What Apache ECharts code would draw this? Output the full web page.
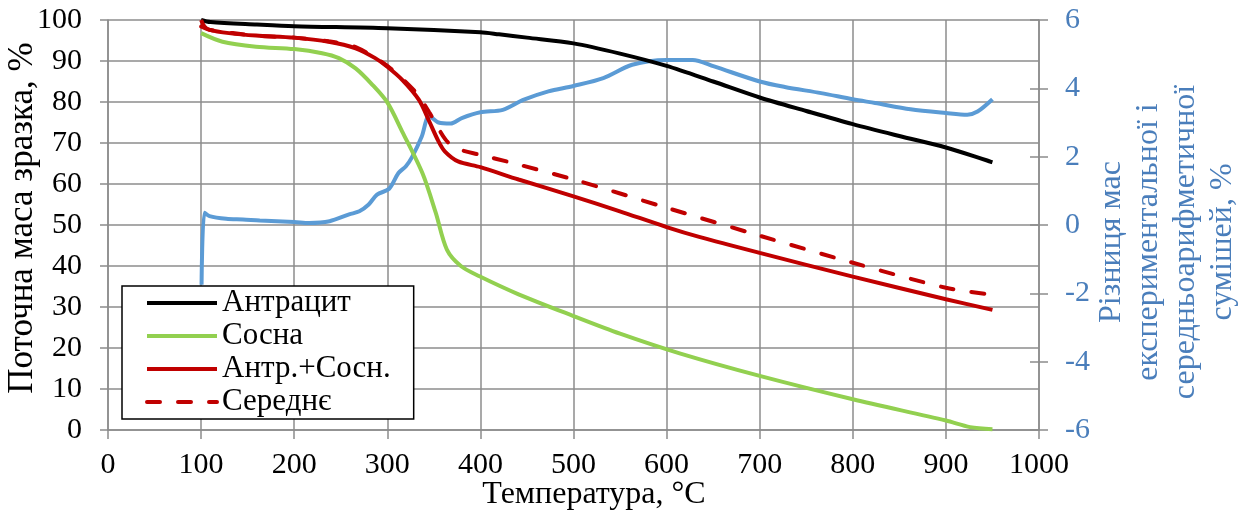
<!DOCTYPE html>
<html>
<head>
<meta charset="utf-8">
<script src="https://cdn.jsdelivr.net/npm/echarts@6/dist/echarts.min.js"></script>
<style>html,body{margin:0;padding:0;background:#fff}#c{width:1245px;height:512px}</style>
</head>
<body>
<div id="c"></div>
<script>
// ---- data ----
const xTicks = [0,100,200,300,400,500,600,700,800,900,1000];
const leftTicks = [0,10,20,30,40,50,60,70,80,90,100];
const rightTicks = [-6,-4,-2,0,2,4,6];

const anthrT = [100,110,160,200,300,400,420,450,500,550,600,650,700,750,800,850,900,950];
const anthrM = [100,99.5,98.9,98.5,98.0,97.0,96.5,95.7,94.3,91.8,88.8,85.0,81.1,77.8,74.6,71.7,68.9,65.3];

const pineT = [100,123,159,200,230,248,266,284,300,316,338,352,364,379,399,441,500,550,614,700,800,900,926,950];
const pineM = [96.8,94.7,93.5,92.9,91.9,90.7,88.2,84.2,79.9,72.8,62.5,53.0,44.0,40.0,37.5,33.1,27.8,23.5,18.7,13.2,7.5,2.3,0.7,0.2];

const mixT = [100,103.6,109,130,159,200,237,266,287,300,316,334,345,355,362,376,400,441,500,549,600,635,700,800,900,950];
const mixM = [100,98.4,97.6,96.8,96.2,95.7,94.7,93.1,90.7,88.6,85.4,80.5,75.3,70.4,67.9,65.5,64.1,61.1,57.0,53.4,49.5,47.1,43.2,37.4,31.9,29.3];

const avgT = [100,109,159,200,237,266,300,330,345,362,373,400,435,500,600,700,800,900,950];
const avgM = [98.4,97.6,96.2,95.7,94.8,93.4,88.8,82.5,77.5,71.0,68.8,67.1,65.1,61.1,54.2,47.4,40.8,34.7,33.0];

const diffT = [100.5,103.6,109,127,145,163,200,216,238,259,270,280,289,302,312,320,327,337,345,355,368,380,400,424,446,473,500,532,563,600,628,651,700,727,766,800,824,862,900,923,934,950];
const diffV = [-1.75,0.36,0.26,0.18,0.16,0.13,0.09,0.06,0.11,0.31,0.40,0.60,0.89,1.06,1.52,1.72,2.01,2.59,3.19,3.00,2.97,3.13,3.30,3.37,3.66,3.91,4.07,4.30,4.69,4.83,4.83,4.64,4.20,4.04,3.86,3.68,3.57,3.39,3.28,3.23,3.32,3.68];

const names = ['Антрацит','Сосна','Антр.+Сосн.','Середнє','Різниця'];

function pairs(t, v){ return t.map((x,i)=>[x, v[i]]); }

const FONT = 'Liberation Serif';
const GRID = '#8c8c8c';
const BLUE_TXT = '#4A7EBB';
const LW = 4;

const chart = echarts.init(document.getElementById('c'), null, {renderer:'canvas'});
chart.setOption({
  animation:false,
  backgroundColor:'#fff',
  grid:{left:108, right:206, top:20, bottom:82, containLabel:false},
  xAxis:{
    type:'value', min:xTicks[0], max:xTicks[xTicks.length-1], interval:100,
    axisLine:{show:true, onZero:false, lineStyle:{color:GRID, width:1.5}},
    axisTick:{show:true, inside:false, length:9, lineStyle:{color:GRID, width:1.5}},
    splitLine:{show:true, lineStyle:{color:GRID, width:1.5}},
    axisLabel:{color:'#000', fontFamily:FONT, fontSize:30, margin:20, formatter:(v)=>String(v)}
  },
  yAxis:[
    {
      type:'value', position:'left', min:leftTicks[0], max:leftTicks[leftTicks.length-1], interval:10,
      axisLine:{show:true, lineStyle:{color:GRID, width:1.5}},
      axisTick:{show:true, inside:false, length:8, lineStyle:{color:GRID, width:1.5}},
      splitLine:{show:true, lineStyle:{color:GRID, width:1.5}},
      axisLabel:{color:'#000', fontFamily:FONT, fontSize:30, margin:26}
    },
    {
      type:'value', position:'right', min:rightTicks[0], max:rightTicks[rightTicks.length-1], interval:2,
      axisLine:{show:true, lineStyle:{color:GRID, width:1.5}},
      axisTick:{show:true, inside:false, length:9, lineStyle:{color:GRID, width:1.5}},
      splitLine:{show:false},
      axisLabel:{color:BLUE_TXT, fontFamily:FONT, fontSize:30, margin:26}
    },
    {
      type:'value', position:'right', min:rightTicks[0], max:rightTicks[rightTicks.length-1], interval:2,
      axisLine:{show:false},
      axisTick:{show:true, inside:true, length:9, lineStyle:{color:GRID, width:1.5}},
      splitLine:{show:false},
      axisLabel:{show:false}
    }
  ],
  legend:{
    data:names.slice(0,4),
    orient:'vertical', left:122, top:286,
    backgroundColor:'#fff', borderColor:'#000', borderWidth:1.5,
    padding:[1,23,1,23], itemGap:1, itemWidth:70, itemHeight:14,
    itemStyle:{opacity:0},
    lineStyle:{width:LW},
    textStyle:{fontFamily:FONT, fontSize:31, color:'#000', lineHeight:32},
    z:10
  },
  series:[
    {name:names[4], type:'line', yAxisIndex:1, data:pairs(diffT,diffV), showSymbol:false, symbol:'none', smooth:0.3,
      lineStyle:{color:'#5B9BD5', width:LW}, itemStyle:{color:'#5B9BD5'}, z:2},
    {name:names[0], type:'line', data:pairs(anthrT,anthrM), showSymbol:false, symbol:'none', smooth:0.3,
      lineStyle:{color:'#000000', width:LW}, itemStyle:{color:'#000000'}, z:3},
    {name:names[1], type:'line', data:pairs(pineT,pineM), showSymbol:false, symbol:'none', smooth:0.3,
      lineStyle:{color:'#92D050', width:LW}, itemStyle:{color:'#92D050'}, z:3},
    {name:names[2], type:'line', data:pairs(mixT,mixM), showSymbol:false, symbol:'none', smooth:0.3,
      lineStyle:{color:'#C00000', width:LW}, itemStyle:{color:'#C00000'}, z:4},
    {name:names[3], type:'line', data:pairs(avgT,avgM), showSymbol:false, symbol:'none', smooth:0.3,
      lineStyle:{color:'#C00000', width:LW, type:[13,18], cap:'round'}, itemStyle:{color:'#C00000'}, z:4}
  ],
  graphic:[
    {type:'text', x:23, y:218, rotation:Math.PI/2,
      style:{text:'Поточна маса зразка, %', font:'35px "Liberation Serif"', fill:'#000', align:'center', verticalAlign:'middle'}},
    {type:'text', x:594, y:495,
      style:{text:'Температура, °C', font:'32px "Liberation Serif"', fill:'#000', align:'center', verticalAlign:'middle'}},
    {type:'text', x:1167, y:242, rotation:Math.PI/2,
      style:{text:'Різниця мас\nекспериментальної і\nсередньоарифметичної\nсумішей, %', font:'32px "Liberation Serif"', fill:BLUE_TXT, align:'center', verticalAlign:'middle', lineHeight:37}}
  ]
});
</script>
</body>
</html>
